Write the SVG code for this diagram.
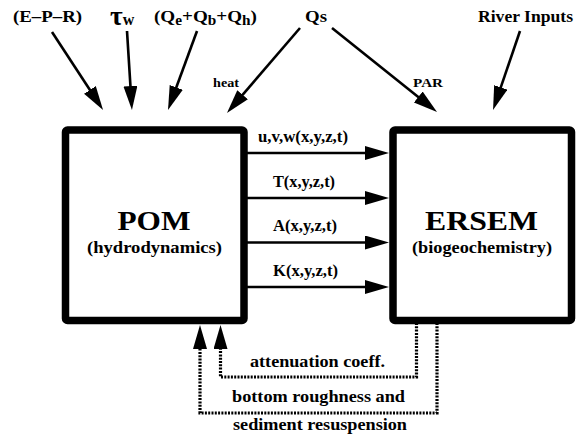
<svg xmlns="http://www.w3.org/2000/svg" width="577" height="436" viewBox="0 0 577 436">
<style>
text{font-family:"Liberation Serif","Times New Roman",serif;font-weight:bold;fill:#000}
.box{fill:#fff;stroke:#000;stroke-width:7.5}
.arr{fill:none;stroke:#000;stroke-width:2.6}
.dot{fill:none;stroke:#000;stroke-width:3.2;stroke-dasharray:2 1.3}
.lbl{font-size:16px;text-anchor:middle}
.big{font-size:27px;text-anchor:middle}
.sub{font-size:17px;text-anchor:middle}
.top{font-size:17.5px}
.sm{font-size:12.5px}
</style>
<defs>
<marker id="ah" markerUnits="userSpaceOnUse" markerWidth="26" markerHeight="16" refX="4" refY="7" orient="auto">
<path d="M0,0 L24,7 L0,14 z" fill="#000"/>
</marker>
</defs>

<g id="inputs">
<text class="top" x="13" y="22" textLength="69" lengthAdjust="spacingAndGlyphs">(E–P–R)</text>
<text x="110" y="24.5" font-size="27.5">τ<tspan font-size="16" dy="0">w</tspan></text>
<text class="top" x="154" y="22" textLength="103" lengthAdjust="spacingAndGlyphs">(Q<tspan font-size="14" dy="2.5">e</tspan><tspan dy="-2.5">+Q</tspan><tspan font-size="14" dy="2.5">b</tspan><tspan dy="-2.5">+Q</tspan><tspan font-size="14" dy="2.5">h</tspan><tspan dy="-2.5">)</tspan></text>
<text class="top" x="305" y="22" textLength="22" lengthAdjust="spacingAndGlyphs">Qs</text>
<text class="top" x="478" y="22" textLength="95" lengthAdjust="spacingAndGlyphs">River Inputs</text>
<text class="sm" x="213" y="87" textLength="26" lengthAdjust="spacingAndGlyphs">heat</text>
<text class="sm" x="413" y="87" textLength="30" lengthAdjust="spacingAndGlyphs">PAR</text>
</g>

<g id="pom">
<rect class="box" x="65.5" y="130" width="178.5" height="190.5" rx="2"/>
<text class="big" x="154" y="230" textLength="73" lengthAdjust="spacingAndGlyphs">POM</text>
<text class="sub" x="154.5" y="253" textLength="135" lengthAdjust="spacingAndGlyphs">(hydrodynamics)</text>
</g>

<g id="ersem">
<rect class="box" x="393" y="130" width="178.5" height="190.5" rx="2"/>
<text class="big" x="481.5" y="230" textLength="113" lengthAdjust="spacingAndGlyphs">ERSEM</text>
<text class="sub" x="482" y="253" textLength="140" lengthAdjust="spacingAndGlyphs">(biogeochemistry)</text>
</g>

<g id="connectors">
<line class="arr" x1="52" y1="32" x2="92.1" y2="93.3" marker-end="url(#ah)"/>
<line class="arr" x1="127" y1="31" x2="130.7" y2="90.1" marker-end="url(#ah)"/>
<line class="arr" x1="197" y1="31" x2="174.9" y2="91.2" marker-end="url(#ah)"/>
<line class="arr" x1="300" y1="28" x2="240" y2="97.8" marker-end="url(#ah)"/>
<line class="arr" x1="332" y1="28" x2="421.4" y2="99.5" marker-end="url(#ah)"/>
<line class="arr" x1="520" y1="31" x2="499.5" y2="91.1" marker-end="url(#ah)"/>

<line class="arr" x1="247" y1="153" x2="369" y2="153" marker-end="url(#ah)"/>
<line class="arr" x1="247" y1="198" x2="369" y2="198" marker-end="url(#ah)"/>
<line class="arr" x1="247" y1="242.5" x2="369" y2="242.5" marker-end="url(#ah)"/>
<line class="arr" x1="247" y1="287" x2="369" y2="287" marker-end="url(#ah)"/>

<path class="dot" d="M416.5,323 V377 H220.5 V345" marker-end="url(#ah)"/>
<path class="dot" d="M437,323 V413 H200 V345" marker-end="url(#ah)"/>
</g>

<g id="labels">
<text class="lbl" x="303" y="141.5" textLength="90" lengthAdjust="spacingAndGlyphs">u,v,w(x,y,z,t)</text>
<text class="lbl" x="304" y="186.5" textLength="62" lengthAdjust="spacingAndGlyphs">T(x,y,z,t)</text>
<text class="lbl" x="305" y="231" textLength="64" lengthAdjust="spacingAndGlyphs">A(x,y,z,t)</text>
<text class="lbl" x="305.5" y="275.5" textLength="65" lengthAdjust="spacingAndGlyphs">K(x,y,z,t)</text>
<text class="sub" x="317.5" y="367" textLength="135" lengthAdjust="spacingAndGlyphs">attenuation coeff.</text>
<text class="sub" x="318.5" y="402" textLength="173" lengthAdjust="spacingAndGlyphs">bottom roughness and</text>
<text class="sub" x="320" y="430" textLength="174" lengthAdjust="spacingAndGlyphs">sediment resuspension</text>
</g>
</svg>
